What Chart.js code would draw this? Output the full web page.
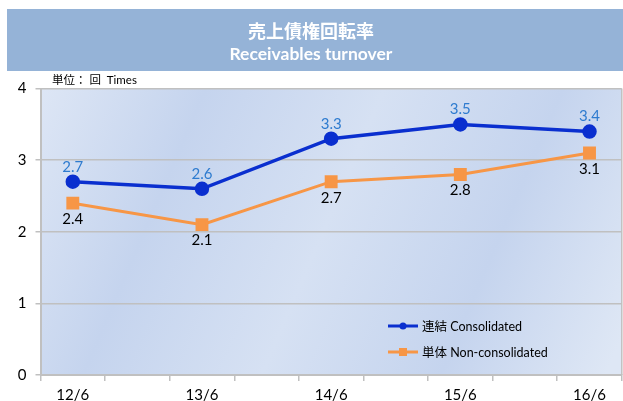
<!DOCTYPE html>
<html>
<head>
<meta charset="utf-8">
<script src="https://cdn.jsdelivr.net/npm/chart.js@4/dist/chart.umd.min.js"></script>
<style>
html,body{margin:0;padding:0;background:#fff;}
#wrap{width:623px;height:401px;position:relative;}
</style>
</head>
<body>
<div id="wrap"><canvas id="c" width="623" height="401"></canvas></div>
<script>
const categories = ['12/6', '13/6', '14/6', '15/6', '16/6'];
const consolidated = [2.7, 2.6, 3.3, 3.5, 3.4];
const nonConsolidated = [2.4, 2.1, 2.7, 2.8, 3.1];
const yTicks = [0, 1, 2, 3, 4];
const seriesNames = ['連結 Consolidated', '単体 Non-consolidated'];
const titleText = '売上債権回転率';
const subtitleText = 'Receivables turnover';
const unitText = '単位： 回  Times';

const LATIN = 'Lato, "Noto Sans CJK JP", sans-serif';
const BLUE = '#0a2fcf';
const ORANGE = '#f79646';
const GRID = '#c0c0c0';

const bannerPlugin = {
  id: 'banner',
  beforeDraw(chart) {
    const ctx = chart.ctx;
    ctx.save();
    ctx.fillStyle = '#95b3d7';
    ctx.fillRect(7, 9, 616, 62);
    const a = chart.chartArea;
    const g = ctx.createLinearGradient(a.left, a.top, a.right, a.bottom * 0.9);
    g.addColorStop(0, '#dde6f5');
    g.addColorStop(0.24, '#c5d4ee');
    g.addColorStop(0.5, '#d6e1f3');
    g.addColorStop(0.76, '#c5d4ee');
    g.addColorStop(1, '#dee7f5');
    ctx.fillStyle = g;
    ctx.fillRect(a.left, a.top, a.right - a.left, a.bottom - a.top);
    ctx.strokeStyle = GRID;
    ctx.lineWidth = 1.5;
    ctx.beginPath();
    ctx.moveTo(a.right, a.top);
    ctx.lineTo(a.right, a.bottom);
    ctx.stroke();
    ctx.fillStyle = '#000';
    ctx.font = '11.5px ' + LATIN;
    ctx.textBaseline = 'middle';
    ctx.textAlign = 'left';
    ctx.fillText(unitText, 52, 80);
    ctx.restore();
  }
};

const labelPlugin = {
  id: 'valueLabels',
  afterDatasetsDraw(chart) {
    const ctx = chart.ctx;
    ctx.save();
    ctx.font = '15px ' + LATIN;
    ctx.textAlign = 'center';
    ctx.textBaseline = 'middle';
    chart.data.datasets.forEach((ds, di) => {
      const meta = chart.getDatasetMeta(di);
      meta.data.forEach((pt, i) => {
        const v = ds.data[i].y;
        if (di === 0) {
          ctx.fillStyle = '#2e7bcf';
          ctx.fillText(v.toFixed(1), pt.x, pt.y - 15);
        } else {
          ctx.fillStyle = '#000';
          ctx.fillText(v.toFixed(1), pt.x, pt.y + 16);
        }
      });
    });
    const lx = 388, ly = [326, 352];
    chart.data.datasets.forEach((ds, di) => {
      const y = ly[di];
      ctx.strokeStyle = ds.borderColor;
      ctx.lineWidth = 3;
      ctx.beginPath();
      ctx.moveTo(lx, y);
      ctx.lineTo(lx + 30, y);
      ctx.stroke();
      ctx.fillStyle = ds.borderColor;
      if (di === 0) {
        ctx.beginPath();
        ctx.arc(lx + 15, y, 3.5, 0, Math.PI * 2);
        ctx.fill();
      } else {
        ctx.fillRect(lx + 11, y - 4, 8, 8);
      }
      ctx.fillStyle = '#000';
      ctx.font = '12.5px ' + LATIN;
      ctx.textAlign = 'left';
      ctx.fillText(seriesNames[di], lx + 34, y + 1);
    });
    ctx.restore();
  }
};

new Chart(document.getElementById('c'), {
  type: 'line',
  data: {
    datasets: [
      {
        label: seriesNames[0],
        data: consolidated.map((v, i) => ({x: i, y: v})),
        borderColor: BLUE,
        backgroundColor: BLUE,
        borderWidth: 3.5,
        pointStyle: 'circle',
        pointRadius: 5.5,
        pointHoverRadius: 5.5,
        tension: 0
      },
      {
        label: seriesNames[1],
        data: nonConsolidated.map((v, i) => ({x: i, y: v})),
        borderColor: ORANGE,
        backgroundColor: ORANGE,
        borderWidth: 3,
        pointStyle: 'rect',
        pointRadius: 7,
        pointHoverRadius: 7,
        tension: 0
      }
    ]
  },
  options: {
    responsive: false,
    animation: false,
    events: [],
    layout: {autoPadding: false, padding: {top: 20, right: 1.2, left: 0, bottom: 0}},
    plugins: {
      legend: {display: false},
      tooltip: {enabled: false},
      title: {
        display: true,
        text: titleText,
        color: '#ffffff',
        font: {family: '"Noto Sans CJK JP", sans-serif', size: 18, weight: 'bold', lineHeight: 1.2},
        padding: {top: 0, bottom: 2}
      },
      subtitle: {
        display: true,
        text: subtitleText,
        color: '#ffffff',
        font: {family: LATIN, size: 17.5, weight: 'bold', lineHeight: 1.2},
        padding: {top: 0, bottom: 24}
      }
    },
    scales: {
      x: {
        type: 'linear',
        min: -0.25,
        max: 4.25,
        afterBuildTicks(scale) {
          const t = [];
          for (let k = 0; k <= 18; k++) t.push({value: -0.25 + k * 0.25});
          scale.ticks = t;
        },
        afterFit(scale) {
          scale.height = 26;
          scale.paddingLeft = 0;
          scale.paddingRight = 0;
        },
        grid: {
          drawOnChartArea: false,
          tickLength: 6,
          lineWidth: 1.5,
          tickColor(ctx) {
            const v = ctx.tick ? ctx.tick.value : 0;
            const q = Math.round((v + 0.25) * 4);
            return (q % 2 === 0) ? GRID : 'rgba(0,0,0,0)';
          }
        },
        border: {color: GRID, width: 2},
        ticks: {
          autoSkip: false,
          maxRotation: 0,
          color: '#000',
          font: {family: LATIN, size: 15},
          padding: 5,
          callback(v) {
            const r = Math.round(v);
            return Math.abs(v - r) < 1e-6 ? categories[r] : '';
          }
        }
      },
      y: {
        min: 0,
        max: 4,
        afterBuildTicks(scale) { scale.ticks = yTicks.map(v => ({value: v})); },
        afterFit(scale) { scale.width = 40.5; },
        grid: {color: GRID, lineWidth: 1.5, tickLength: 5, tickColor: GRID},
        border: {color: GRID, width: 2},
        ticks: {
          color: '#000',
          font: {family: LATIN, size: 15},
          padding: 9
        }
      }
    }
  },
  plugins: [bannerPlugin, labelPlugin]
});
</script>
</body>
</html>
